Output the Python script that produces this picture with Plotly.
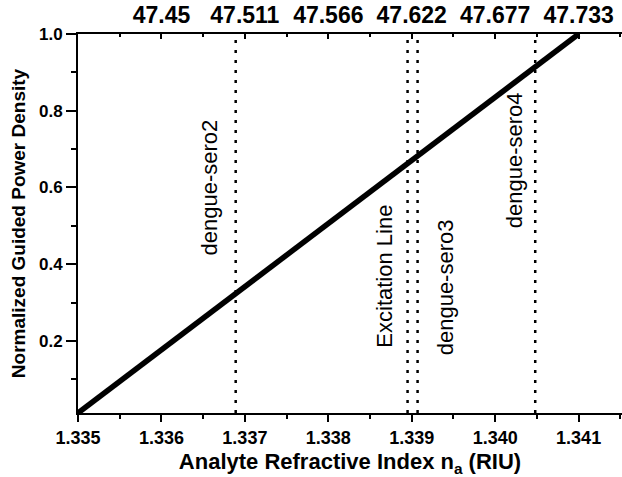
import plotly.graph_objects as go

# Data
x_line = [1.335, 1.336, 1.337, 1.338, 1.339, 1.340, 1.341]
y_line = [0.012, 0.177, 0.341, 0.506, 0.671, 0.835, 1.0]

vline_x = [1.33689, 1.33895, 1.33907, 1.34048]
vline_labels = ["dengue-sero2", "Excitation Line", "dengue-sero3", "dengue-sero4"]
label_x = [1.33657, 1.33867, 1.3394, 1.34023]
label_y = [0.60, 0.368, 0.34, 0.672]

bottom_ticks = [1.335, 1.336, 1.337, 1.338, 1.339, 1.340, 1.341]
top_tickvals = [1.336, 1.337, 1.338, 1.339, 1.340, 1.341]
top_ticktext = ["47.45", "47.511", "47.566", "47.622", "47.677", "47.733"]
y_ticks = [0.2, 0.4, 0.6, 0.8, 1.0]

FONT = "Liberation Sans, Arial, sans-serif"
XR = [1.335, 1.34152]
YR = [0.012, 1.0]

fig = go.Figure()
fig.add_trace(go.Scatter(x=x_line, y=y_line, mode="lines",
                         line=dict(color="black", width=5.5), showlegend=False,
                         hoverinfo="skip"))
# invisible trace for top axis
fig.add_trace(go.Scatter(x=XR, y=YR, mode="markers", xaxis="x2",
                         marker=dict(opacity=0, size=1), showlegend=False, hoverinfo="skip"))

for vx in vline_x:
    fig.add_trace(go.Scatter(x=[vx, vx], y=YR, mode="lines",
                             line=dict(color="black", width=2.5, dash="3px,7px"),
                             showlegend=False, hoverinfo="skip"))

for t, lx, ly in zip(vline_labels, label_x, label_y):
    fig.add_annotation(x=lx, y=ly, text=t, showarrow=False, textangle=-90,
                       font=dict(family=FONT, size=22, color="black"),
                       xref="x", yref="y")

fig.update_layout(
    width=622, height=477,
    margin=dict(l=78, r=0, t=34, b=64),
    plot_bgcolor="white", paper_bgcolor="white",
    font=dict(family=FONT, color="black"),
    xaxis=dict(range=XR, tickvals=bottom_ticks, tickformat=".3f",
               showgrid=False, zeroline=False, showline=True, linecolor="black",
               linewidth=2, ticks="outside", ticklen=7, tickwidth=2, tickcolor="black",
               tickfont=dict(family=FONT, size=18, weight="bold"),
               minor=dict(dtick=0.0005, tick0=1.335, ticks="outside", ticklen=4,
                          tickwidth=1.5, tickcolor="black", showgrid=False),
               title=dict(text="Analyte Refractive Index n<sub>a</sub> (RIU)",
                          font=dict(family=FONT, size=22, weight="bold"), standoff=8)),
    xaxis2=dict(range=XR, overlaying="x", side="top", anchor="y",
                tickvals=top_tickvals, ticktext=top_ticktext,
                showgrid=False, zeroline=False, showline=True, linecolor="black",
                linewidth=2, ticks="inside", ticklen=5, tickwidth=2, tickcolor="black",
                tickfont=dict(family=FONT, size=23, weight="bold"),
                minor=dict(dtick=0.0005, tick0=1.335, ticks="inside", ticklen=3,
                           tickwidth=1.5, tickcolor="black", showgrid=False)),
    yaxis=dict(range=YR, tickvals=y_ticks, tickformat=".1f",
               showgrid=False, zeroline=False, showline=True, linecolor="black",
               linewidth=2, ticks="outside", ticklen=10, tickwidth=2, tickcolor="black",
               tickfont=dict(family=FONT, size=17, weight="bold"),
               minor=dict(dtick=0.1, tick0=0, ticks="outside", ticklen=5,
                          tickwidth=1.5, tickcolor="black", showgrid=False),
               title=dict(text="Normalized Guided Power Density",
                          font=dict(family=FONT, size=19, weight="bold"), standoff=8)),
)

fig.write_html("out.html")
